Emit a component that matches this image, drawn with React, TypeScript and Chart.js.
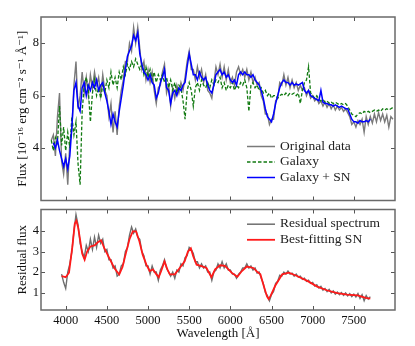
import React, { useEffect, useRef } from 'react';
import { Chart, registerables } from 'chart.js';

Chart.register(...registerables);

const FONT = "'Liberation Serif', 'DejaVu Serif', serif";

// ---------- data ----------
const WAVE_STEP = 25;

// Original observed spectrum (top panel, grey), starts at 3825 Å
const originalStart = 3825;
const originalFlux = [
  4.3, 4.5, 3.7, 5.2, 6.1, 3.5, 3.0, 3.8,
  2.6, 4.2, 4.7, 6.4, 7.3, 5.5, 6.0, 6.9,
  6.1, 6.7, 6.0, 6.8, 6.3, 6.9, 6.4, 6.7,
  6.0, 6.8, 6.2, 6.0, 5.2, 5.7, 4.6, 5.4,
  4.5, 5.6, 6.2, 6.6, 7.3, 7.3, 8.0, 7.7,
  8.6, 8.0, 8.6, 7.8, 7.0, 7.3, 6.6, 7.0,
  6.5, 6.9, 6.2, 5.7, 6.3, 6.4, 6.9, 7.2,
  6.1, 6.4, 5.6, 6.3, 5.9, 6.4, 6.1, 6.5,
  6.2, 6.7, 7.3, 7.7, 7.0, 7.0, 6.6, 7.1,
  6.7, 7.0, 6.5, 6.8, 6.2, 6.1, 5.9, 6.5,
  7.1, 6.8, 7.2, 6.7, 7.1, 6.6, 7.0, 6.5,
  6.7, 6.4, 6.9, 7.1, 6.8, 7.0, 6.7, 7.0,
  6.6, 6.9, 6.5, 6.7, 6.4, 6.5, 6.0, 5.8,
  5.3, 5.3, 4.9, 5.1, 5.1, 5.8, 5.9, 6.5,
  6.4, 6.8, 6.4, 6.7, 6.3, 6.6, 6.3, 6.5,
  6.2, 6.4, 6.2, 6.3, 6.0, 6.2, 5.9, 6.0,
  5.8, 5.9, 5.7, 5.8, 5.6, 5.75, 5.55, 5.7,
  5.5, 5.65, 5.45, 5.6, 5.45, 5.55, 5.4, 5.5,
  5.35, 5.2, 4.9, 5.0, 4.8, 5.05, 4.9, 5.1,
  4.6, 5.2, 4.9, 5.2, 4.95, 5.3, 5.0, 5.35,
  5.05, 5.3, 5.0, 5.25, 4.8, 5.2, 5.1,
];

// Galaxy template (green dashed), starts at 3825 Å
const galaxyStart = 3825;
const galaxyFlux = [
  4.3, 3.9, 4.4, 4.2, 5.6, 4.1, 4.8, 3.9,
  4.6, 4.0, 5.2, 4.5, 5.0, 3.4, 2.6, 5.4,
  6.4, 6.7, 6.2, 5.0, 6.1, 6.6, 6.0, 6.3,
  5.9, 6.4, 6.1, 6.6, 6.3, 6.9, 6.4, 6.7,
  6.3, 6.9, 6.6, 7.1, 6.8, 7.2, 7.0, 7.3,
  7.1, 7.4, 7.2, 7.0, 7.2, 6.8, 7.1, 6.7,
  7.0, 6.6, 6.9, 6.5, 6.8, 6.6, 6.8, 6.5,
  6.7, 6.3, 6.6, 6.2, 6.5, 6.1, 6.4, 6.3,
  5.8, 5.1, 6.2, 6.5, 6.2, 5.6, 6.3, 6.5,
  6.2, 6.6, 6.4, 6.3, 6.5, 6.3, 6.6, 6.4,
  6.6, 6.5, 6.7, 6.3, 6.5, 6.2, 6.4, 6.3,
  6.5, 6.2, 6.4, 6.3, 6.5, 6.4, 6.6, 6.3,
  5.4, 6.4, 6.5, 6.3, 6.4, 6.2, 6.3, 6.1,
  6.2, 6.0, 6.1, 5.9, 6.0, 6.0, 5.9, 6.0,
  6.05, 6.0, 6.1, 6.0, 6.1, 6.05, 6.1, 6.0,
  6.1, 5.7, 6.2, 6.5, 6.6, 7.1, 6.1, 6.0,
  5.9, 6.0, 5.85, 5.8, 5.85, 5.75, 5.8, 5.7,
  5.75, 5.7, 5.75, 5.7, 5.65, 5.7, 5.65, 5.7,
  5.6, 5.45, 5.3, 5.25, 5.2, 5.3, 5.35, 5.3,
  5.4, 5.35, 5.4, 5.35, 5.4, 5.45, 5.4, 5.45,
  5.4, 5.5, 5.45, 5.5, 5.45, 5.5, 5.55,
];

// Galaxy + SN model (blue), starts at 3850 Å
const modelStart = 3850;
const galaxySnFlux = [
  4.2, 4.0, 4.3, 3.9, 3.6, 3.3, 3.6, 3.2,
  3.7, 4.8, 6.2, 6.5, 5.6, 5.4, 6.3, 6.5,
  6.0, 6.4, 6.2, 6.5, 6.3, 6.6, 6.2, 6.4,
  6.5, 6.1, 5.8, 5.4, 4.9, 5.3, 5.0, 4.8,
  5.4, 5.9, 6.4, 7.0, 7.5, 7.7, 7.9, 8.3,
  8.1, 8.4, 7.6, 7.2, 6.9, 6.8, 6.6, 6.8,
  6.5, 6.4, 5.9, 6.1, 6.5, 6.7, 7.0, 6.3,
  6.2, 5.7, 6.1, 6.2, 6.0, 6.3, 6.2, 6.4,
  6.5, 7.1, 7.6, 7.2, 6.8, 6.8, 6.6, 6.9,
  6.7, 6.6, 6.7, 6.4, 6.2, 6.1, 6.4, 6.8,
  6.9, 7.0, 6.8, 6.9, 6.7, 6.8, 6.6, 6.5,
  6.6, 6.4, 6.8, 6.9, 6.8, 6.9, 6.8, 6.8,
  6.7, 6.8, 6.6, 6.5, 6.4, 6.2, 5.9, 5.5,
  5.2, 5.1, 5.0, 5.3, 5.7, 6.0, 6.3, 6.5,
  6.6, 6.5, 6.5, 6.4, 6.5, 6.4, 6.45, 6.4,
  6.45, 6.5, 6.2, 6.1, 6.2, 6.0, 5.95, 5.9,
  5.85, 5.8, 6.2, 5.75, 5.7, 5.7, 5.65, 5.65,
  5.6, 5.65, 5.6, 5.55, 5.6, 5.55, 5.5, 5.5,
  5.3, 5.1, 5.0, 5.0, 4.95, 5.05, 5.0, 5.0,
  5.05, 5.0, 5.1,
];

// Residual spectrum (bottom panel, grey), starts at 3950 Å
const residualStart = 3950;
const residualFlux = [
  1.9, 1.5, 1.2, 2.0, 2.4, 3.0, 4.0, 4.8,
  4.3, 3.4, 3.0, 2.7, 3.3, 3.0, 3.6, 3.1,
  3.7, 3.2, 3.8, 3.4, 3.6, 3.0, 3.1, 2.6,
  2.6, 2.2, 2.3, 1.8, 1.9, 2.3, 2.4, 3.0,
  3.2, 3.8, 4.2, 3.9, 4.1, 3.7, 3.6, 3.0,
  2.8, 2.3, 2.3, 1.9, 2.3, 2.0, 2.0, 1.6,
  2.1, 2.3, 2.6, 2.2, 2.0, 1.8, 2.0, 1.7,
  2.1, 2.0, 2.4, 2.3, 2.7, 2.8, 3.2, 3.1,
  2.9, 2.5, 2.5, 2.2, 2.4, 2.2, 2.3, 2.0,
  2.0, 1.6, 2.0, 2.1, 2.4, 2.2, 2.5, 2.2,
  2.4, 2.1, 2.1, 1.9, 1.9, 1.7, 1.9, 2.0,
  2.2, 2.2, 2.4, 2.2, 2.3, 2.1, 2.2, 1.95,
  2.0, 1.7, 1.45, 1.0, 0.85, 0.6, 0.9, 1.05,
  1.45, 1.55, 1.85, 1.8, 2.0, 1.9, 2.05, 1.9,
  1.95, 1.8, 1.9, 1.75, 1.8, 1.65, 1.7, 1.55,
  1.6, 1.45, 1.5, 1.32, 1.38, 1.22, 1.3, 1.12,
  1.2, 1.05, 1.15, 0.98, 1.08, 0.92, 1.02, 0.9,
  1.0, 0.86, 0.98, 0.84, 0.95, 0.8, 0.92, 0.78,
  0.95, 0.72, 0.9, 0.6, 0.85, 0.68, 0.8,
];

// Best-fitting SN template (red)
const snWave = [
  3950, 3975, 4000, 4040, 4080, 4110, 4130, 4150, 4170, 4200,
  4230, 4260, 4300, 4350, 4390, 4430, 4470, 4530, 4590, 4650,
  4690, 4730, 4775, 4815, 4855, 4895, 4935, 4980, 5020, 5060,
  5100, 5130, 5160, 5200, 5235, 5265, 5325, 5385, 5445, 5485,
  5520, 5550, 5590, 5650, 5710, 5770, 5815, 5875, 5935, 6015,
  6085, 6140, 6200, 6280, 6330, 6365, 6405, 6445, 6465, 6490,
  6545, 6630, 6710, 6810, 6935, 7055, 7180, 7300, 7420, 7545,
  7645, 7700,
];
const snFlux = [
  1.8, 1.78, 1.75, 1.97, 3.2, 4.35, 4.5, 4.2, 3.7, 2.9,
  2.6, 3.0, 3.25, 3.3, 3.45, 3.55, 3.15, 2.68, 2.2, 1.88,
  2.25, 2.9, 3.6, 3.98, 3.98, 3.5, 2.85, 2.36, 2.05, 2.13,
  1.9, 1.75, 2.05, 2.52, 2.13, 1.89, 1.89, 2.2, 2.52, 3.0,
  3.16, 2.76, 2.36, 2.29, 2.2, 1.75, 2.13, 2.33, 2.3, 1.97,
  1.77, 2.05, 2.27, 2.2, 2.0, 1.89, 1.33, 0.81, 0.68, 0.85,
  1.33, 1.89, 1.97, 1.81, 1.57, 1.29, 1.1, 0.97, 0.9, 0.86,
  0.74, 0.7,
];

const xTickValues = [4000, 4500, 5000, 5500, 6000, 6500, 7000, 7500];
const topYTickValues = [4, 6, 8];
const bottomYTickValues = [1, 2, 3, 4];

const gridPoints = (start: number, values: number[]) =>
  values.map((v, i) => ({ x: start + i * WAVE_STEP, y: v }));

// ---------- plugin: frame, inward ticks, legend ----------
const framePlugin = {
  id: 'specFrame',
  afterDraw(chart: any, _args: any, opts: any) {
    const { ctx, chartArea: a, scales } = chart;
    ctx.save();
    ctx.strokeStyle = '#555';
    ctx.lineWidth = 1;
    const tl = 4;
    ctx.beginPath();
    for (const v of opts.xTicks) {
      const px = Math.round(scales.x.getPixelForValue(v)) + 0.5;
      ctx.moveTo(px, a.top);
      ctx.lineTo(px, a.top + tl);
      ctx.moveTo(px, a.bottom);
      ctx.lineTo(px, a.bottom - tl);
    }
    for (const v of opts.yTicks) {
      const py = Math.round(scales.y.getPixelForValue(v)) + 0.5;
      ctx.moveTo(a.left, py);
      ctx.lineTo(a.left + tl, py);
      ctx.moveTo(a.right, py);
      ctx.lineTo(a.right - tl, py);
    }
    ctx.stroke();
    ctx.strokeStyle = '#6a6a6a';
    ctx.lineWidth = 1.5;
    ctx.strokeRect(a.left, a.top, a.right - a.left, a.bottom - a.top);

    const lg = opts.legend;
    ctx.font = `${lg.size}px ${FONT}`;
    ctx.textBaseline = 'middle';
    ctx.textAlign = 'left';
    ctx.fillStyle = '#222';
    lg.rows.forEach((idx: number, r: number) => {
      const ds = chart.data.datasets[idx];
      const y = (lg.anchor === 'bottom' ? a.bottom : a.top) + lg.y0 + r * lg.dy;
      ctx.save();
      ctx.strokeStyle = ds.borderColor;
      ctx.lineWidth = Math.max(ds.borderWidth, 1.5);
      ctx.setLineDash(ds.borderDash || []);
      ctx.beginPath();
      ctx.moveTo(a.right + lg.x0, y);
      ctx.lineTo(a.right + lg.x0 + lg.len, y);
      ctx.stroke();
      ctx.restore();
      ctx.fillText(ds.label, a.right + lg.textX, y - 0.5);
    });
    ctx.restore();
  },
};

const tickFont = { family: FONT, size: 12.5 };
const titleFont = { family: FONT, size: 13 };

export default function App() {
  const topRef = useRef<HTMLCanvasElement>(null);
  const botRef = useRef<HTMLCanvasElement>(null);

  useEffect(() => {
    const common: any = {
      animation: false,
      responsive: false,
      events: [],
      elements: { point: { radius: 0 }, line: { tension: 0 } },
    };

    const top = new Chart(topRef.current as HTMLCanvasElement, {
      type: 'line',
      data: {
        datasets: [
          { label: 'Original data', data: gridPoints(originalStart, originalFlux), borderColor: '#7a7a7a', borderWidth: 1.4, order: 3 },
          { label: 'Galaxy', data: gridPoints(galaxyStart, galaxyFlux), borderColor: '#117a11', borderWidth: 1.3, borderDash: [3.5, 2], order: 2 },
          { label: 'Galaxy + SN', data: gridPoints(modelStart, galaxySnFlux), borderColor: '#0000ff', borderWidth: 1.5, order: 1 },
        ],
      } as any,
      options: {
        ...common,
        layout: { padding: { left: 0, right: 20, top: 17, bottom: 3 } },
        scales: {
          x: { type: 'linear', min: 3700, max: 8000, display: false },
          y: {
            type: 'linear', min: 2, max: 9,
            afterFit: (s: any) => { s.width = 41; },
            afterBuildTicks: (s: any) => { s.ticks = topYTickValues.map((v) => ({ value: v })); },
            ticks: { font: tickFont, color: '#111', padding: 2 },
            grid: { display: false, drawTicks: false },
            border: { display: false },
            title: { display: true, text: 'Flux [10⁻¹⁶ erg cm⁻² s⁻¹ Å⁻¹]', font: titleFont, color: '#111', padding: { top: 15, bottom: 0 } },
          },
        },
        plugins: {
          legend: { display: false },
          tooltip: { enabled: false },
          specFrame: {
            xTicks: xTickValues, yTicks: topYTickValues,
            legend: { size: 13.5, anchor: 'bottom', rows: [0, 1, 2], y0: -54, dy: 15.5, x0: -148, len: 28, textX: -115 },
          },
        },
      } as any,
      plugins: [framePlugin],
    });

    const bot = new Chart(botRef.current as HTMLCanvasElement, {
      type: 'line',
      data: {
        datasets: [
          { label: 'Residual spectrum', data: gridPoints(residualStart, residualFlux), borderColor: '#6e6e6e', borderWidth: 1.4, order: 2 },
          { label: 'Best-fitting SN', data: snWave.map((w, i) => ({ x: w, y: snFlux[i] })), borderColor: '#ff1a1a', borderWidth: 1.8, order: 1 },
        ],
      } as any,
      options: {
        ...common,
        layout: { padding: { left: 0, right: 20, top: 7, bottom: 0 } },
        scales: {
          x: {
            type: 'linear', min: 3700, max: 8000,
            afterFit: (s: any) => { s.height = 36; },
            afterBuildTicks: (s: any) => { s.ticks = xTickValues.map((v) => ({ value: v })); },
            ticks: { font: tickFont, color: '#111', padding: 3, maxRotation: 0, autoSkip: false, callback: (v: any) => String(v) },
            grid: { display: false, drawTicks: false },
            border: { display: false },
            title: { display: true, text: 'Wavelength [Å]', font: titleFont, color: '#111', padding: { top: 0, bottom: 5 } },
          },
          y: {
            type: 'linear', min: 0.15, max: 5.05,
            afterFit: (s: any) => { s.width = 41; },
            afterBuildTicks: (s: any) => { s.ticks = bottomYTickValues.map((v) => ({ value: v })); },
            ticks: { font: tickFont, color: '#111', padding: 2 },
            grid: { display: false, drawTicks: false },
            border: { display: false },
            title: { display: true, text: 'Residual flux', font: titleFont, color: '#111', padding: { top: 15, bottom: 0 } },
          },
        },
        plugins: {
          legend: { display: false },
          tooltip: { enabled: false },
          specFrame: {
            xTicks: xTickValues, yTicks: bottomYTickValues,
            legend: { size: 13.5, anchor: 'top', rows: [0, 1], y0: 14.7, dy: 15.6, x0: -148, len: 28, textX: -115 },
          },
        },
      } as any,
      plugins: [framePlugin],
    });

    return () => {
      top.destroy();
      bot.destroy();
    };
  }, []);

  return (
    <div style={{ position: 'fixed', left: 0, top: 0, width: 415, height: 346, background: '#fff' }}>
      <canvas ref={topRef} width={415} height={210} style={{ position: 'absolute', left: 0, top: 0, width: 415, height: 210 }} />
      <canvas ref={botRef} width={415} height={146} style={{ position: 'absolute', left: 0, top: 200, width: 415, height: 146 }} />
    </div>
  );
}
